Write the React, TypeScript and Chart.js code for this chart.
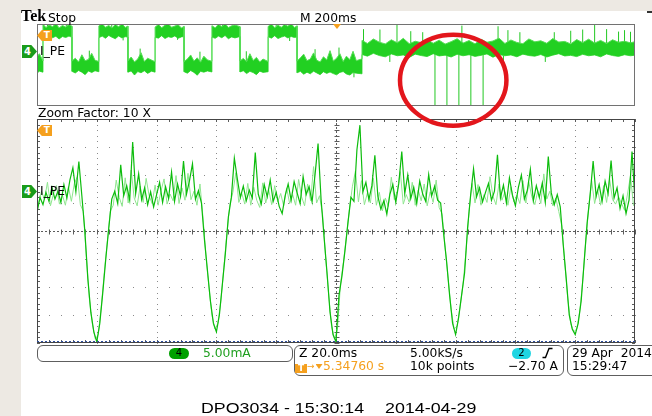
import React, { useEffect, useRef } from "react";
import { Chart, registerables } from "chart.js";

Chart.register(...registerables);

// ---------------- data ----------------
// vertical scale (both panes): 8 divisions x 5.00 mA
const Y_MIN = -27.5;
const Y_MAX = 12.5;
// zoomed pane: 10 divisions x 20.0 ms
const ZOOM_SPAN_MS = 200;
const ZOOM_SAMPLE_MS = 1;
// overview pane: 10 divisions x 200 ms
const OVERVIEW_SPAN_MS = 2000;

// zoomed trace I_PE (mA), bright samples at t = 0, 1, ... 200 ms
const zoomI = [
  -4.2, -1.5, -2.8, -0.6, -2.2, 0.3, -1.8, -0.4, -2.4, 0.8,
  -1.6, 1.6, 3.8, -0.5, 4.9, -1.2, -7.5, -16, -22, -25.5,
  -27.3, -24, -18.5, -12.5, -7, -1.8, -0.4, -2.6, 4.3, -1.2,
  0.6, -2.0, 8.4, -0.8, 2.7, -1.9, 0.2, -2.8, -0.5, -3.2,
  -1.0, 1.2, -2.4, 0.4, -1.7, 3.0, -2.2, 0.9, -1.3, 5.0,
  -0.9, 1.5, 4.5, -1.8, -0.3, -2.5, -9, -14.5, -20, -24,
  -25.5, -22.5, -17, -11.5, -5, -1.5, 5.5, 1.8, -1.5, 0.5,
  -2.1, -0.2, -1.6, 6.5, -0.9, -2.7, 0.8, -1.4, 1.6, -2.2,
  -0.6, -3.1, -4.4, -1.2, 0.9, -2.0, 1.3, -0.7, -2.6, 2.2,
  -1.0, 0.4, -2.3, 2.6, 8.1, -1.8, -8.5, -15, -22, -26,
  -27.3, -19, -15.5, -11, -6, -1.5, -2.2, 7.0, 11.4, -0.5,
  1.2, -1.9, 0.6, 6.0, -1.3, -3.6, -2.1, -4.5, -1.0, 0.8,
  -2.4, 1.0, 6.7, -0.8, 2.5, -1.7, 0.3, -2.6, 1.4, -0.9,
  -2.2, 2.6, -1.2, 0.5, -2.0, -2.5, -8, -13, -19, -24,
  -26, -23, -19, -15, -7, -1.2, 3.6, -1.4, 0.2, -2.3,
  -0.6, 1.0, -2.0, -0.4, 6.1, -1.6, 0.7, -2.5, 2.0, -1.1,
  -3.0, 0.3, 2.5, -1.8, -0.2, 3.5, -2.1, 0.6, -1.5, 1.1,
  -2.4, 5.8, -0.7, -2.8, -1.0, -3.2, -10, -16, -22.5, -25,
  -26, -24, -20, -13, -6, -1, 5.0, -1.3, 0.8, -2.2,
  1.4, -0.8, 5.1, -1.6, 0.2, -3.5, -1.2, -4.4, -2.0, 6.7,
  -2.3,
];
// faint (intensity-graded) samples at t = 0.5, 1.5, ... 199.5 ms
const zoomFaint = [
  -2.6, -0.4, -1.9, 1.2, -3.0, -0.9, 0.6, -2.7, -1.1, -2.9,
  0.4, -2.2, 1.0, 2.2, -2.8, -4, -12, -19.5, -24, -26.8,
  -26, -21, -15, -9.5, -4, -2.9, 1.6, -1.5, -3.1, 2.0,
  -2.5, 3.4, -1.6, -3.0, 0.5, -2.4, 1.9, -1.2, -2.6, 0.7,
  -2.9, -0.3, 1.8, -2.7, -0.9, -2.1, 2.4, -2.6, 0.2, -2.0,
  2.8, -1.9, -0.4, -2.9, 0.9, -5, -12, -17.5, -22.5, -25,
  -24, -20, -14, -8, -2.8, -0.6, 2.9, -2.4, -0.8, -2.7,
  1.0, -2.9, 0.3, -2.0, -3.3, 1.1, -2.5, -0.2, -2.8, 0.6,
  -2.3, -0.8, -3.0, 0.2, -2.6, -1.0, -2.9, 1.7, -1.4, -3.0,
  0.9, -2.1, 4.0, -2.5, -1.2, -4.5, -12, -18.5, -24.5, -26.8,
  -25, -17, -13, -8.5, -3.5, 0.5, 3.2, -2.3, 1.5, -2.8,
  -0.7, -2.5, 1.9, -2.9, -0.6, -3.9, -1.6, -3.1, 2.1, -1.9,
  -0.4, 3.1, -2.7, -1.0, -2.4, 1.2, -2.9, -0.2, -2.1, 0.9,
  -3.0, -0.5, -2.4, 1.6, -3.3, -4.5, -10.5, -16, -21.5, -25,
  -24.5, -21, -17, -11, -4, 1.0, -2.5, 0.8, -2.9, -1.0,
  -2.4, 2.2, -1.3, -2.8, 0.9, -2.0, -0.5, -2.9, 0.4, -2.3,
  -1.1, -2.6, 1.5, -2.5, 1.2, -1.4, -2.8, -0.3, -2.6, 2.7,
  -1.8, -0.4, -3.0, -1.6, -4.0, -6.5, -13, -19.5, -24, -25.5,
  -25, -22, -16.5, -9.5, -3.5, 1.5, -2.6, -0.1, -2.9, 0.6,
  -2.4, 1.8, -1.9, -2.7, -1.4, -2.6, -3.8, -0.9, 2.4, -3.0,
];

// overview trace: noise band envelope (time ms, upper mA, lower mA)
const ovT = [
  0, 8, 20,
  20, 30, 41, 52, 63, 74, 85, 96, 107, 117,
  117, 128, 139, 150, 161, 172, 183, 194, 207,
  207, 218, 229, 240, 251, 262, 273, 284, 295, 304,
  304, 315, 326, 337, 348, 359, 370, 383, 395,
  395, 406, 417, 428, 439, 450, 461, 472, 483, 492,
  492, 503, 514, 525, 536, 547, 558, 570, 585,
  585, 596, 607, 618, 629, 640, 651, 662, 679,
  679, 690, 701, 712, 723, 734, 745, 756, 773,
  773, 784, 795, 806, 817, 828, 839, 850, 861, 870,
  870, 881, 892, 903, 914, 925, 936, 947, 958, 969, 980, 991, 1002, 1013, 1024, 1035, 1046, 1057, 1068, 1087,
  1087, 1105, 1125, 1145, 1165, 1185, 1205, 1225, 1245, 1265, 1285, 1305, 1325, 1345, 1365, 1385,
  1405, 1425, 1445, 1465, 1485, 1505, 1525, 1545, 1565, 1585, 1605, 1625, 1645, 1665, 1685, 1705,
  1725, 1745, 1765, 1785, 1805, 1825, 1845, 1865, 1885, 1905, 1925, 1945, 1965, 1985, 2000,
];
const ovHi = [
  -3.5, -2.0, -5.5,
  12.4, 10.8, 12.0, 11.2, 12.7, 10.6, 11.8, 11.0, 12.2, 11.4,
  -5.6, -4.2, -6.0, -2.5, -5.4, -4.8, -1.8, -5.2, -5.8,
  11.6, 12.6, 10.9, 11.8, 10.5, 12.3, 11.1, 12.7, 10.8, 11.5,
  -5.4, -3.6, -6.0, -4.6, -1.5, -5.8, -4.2, -5.1, -5.9,
  11.0, 12.2, 10.7, 11.9, 12.6, 10.9, 11.5, 12.1, 10.6, 11.3,
  -5.8, -4.6, -2.6, -5.6, -4.0, -6.1, -3.2, -5.0, -5.7,
  11.7, 10.6, 12.4, 11.1, 12.7, 10.8, 11.6, 12.0, 11.2,
  -5.5, -4.3, -5.9, -2.0, -5.3, -3.8, -6.0, -4.6, -5.8,
  11.3, 12.5, 10.7, 11.9, 10.9, 12.2, 11.4, 12.7, 10.8, 11.6,
  -5.6, -4.0, -2.2, -5.4, -4.6, -1.6, -5.2, -6.0, -3.5, -5.0, -0.5, -5.6, -4.2, -2.0, -5.8, -3.2, -4.9, -0.8, -5.4, -4.5,
  4.5, 3.0, 5.2, 3.6, 2.8, 4.8, 3.3, 5.5, 2.9, 4.1, 3.4, 5.0, 3.1, 4.6, 2.7, 3.9,
  5.3, 3.2, 4.4, 2.8, 5.1, 3.6, 4.2, 5.6, 3.0, 4.7, 3.5, 2.9, 5.2, 3.8, 4.3, 3.1,
  5.4, 3.7, 4.0, 2.8, 4.9, 3.4, 5.1, 3.2, 4.5, 3.0, 4.8, 3.6, 4.1, 3.3, 3.9,
];
const ovLo = [
  -11.5, -10.5, -11,
  6.2, 5.4, 6.8, 5.8, 6.5, 5.2, 6.4, 5.9, 6.6, 6.0,
  -10.6, -11.4, -10.2, -11.0, -12.2, -10.4, -11.2, -10.3, -10.8,
  5.8, 6.6, 5.5, 6.9, 6.0, 5.3, 6.7, 5.7, 6.3, 6.1,
  -11.0, -10.4, -12.4, -10.7, -11.3, -10.3, -11.6, -10.5, -11.0,
  6.0, 5.6, 6.8, 5.4, 6.3, 5.9, 6.7, 5.5, 6.2, 6.4,
  -10.8, -11.5, -10.2, -11.1, -12.5, -10.6, -11.0, -10.4, -10.9,
  6.1, 5.5, 6.6, 5.8, 6.9, 5.3, 6.2, 5.7, 6.4,
  -10.9, -10.3, -11.7, -10.6, -11.2, -12.2, -10.5, -11.1, -10.8,
  6.3, 5.6, 6.8, 5.4, 6.1, 6.6, 5.7, 6.4, 5.9, 6.2,
  -11.3, -10.6, -12.0, -11.0, -11.8, -10.5, -11.4, -12.2, -10.8, -11.6, -10.9, -11.7, -12.3, -11.1, -10.7, -11.9, -12.4, -11.2, -11.5, -11.8,
  -2.4, -3.2, -1.8, -2.9, -3.5, -2.1, -3.0, -2.6, -3.8, -2.2, -2.9, -3.4, -2.0, -3.1, -2.7, -3.6,
  -2.3, -3.0, -2.5, -3.3, -2.8, -2.1, -3.7, -2.4, -3.0, -2.6, -3.5, -2.2, -2.9, -3.2, -2.4, -3.6,
  -2.7, -2.0, -3.1, -2.8, -3.4, -2.3, -3.0, -2.6, -3.5, -2.1, -2.9, -3.3, -2.5, -3.0, -2.7,
];
// overview isolated spikes (time ms, top mA, bottom mA)
const ovSpikeT = [35, 98, 175, 250, 288, 345, 430, 470, 545, 620, 700, 800, 845, 930, 1010, 1060, 1092, 1147, 1180, 1204, 1250, 1290, 1331, 1371, 1411, 1421, 1451, 1492, 1542, 1560, 1575, 1615, 1700, 1730, 1785, 1825, 1865, 1905, 1945, 1965, 1985];
const ovSpikeTop = [12.7, 12.5, -0.5, 12.7, 8, 0.5, 12.7, 8, -1.0, 12.7, -0.8, 12.7, 8, 0.2, 1.0, -10, 10, 9.8, -2, 12.2, 9, 8.5, -2, -2, -2, 11.7, -2, -2, 11.4, -2, 9.5, 8.5, -2, 8.5, 9.2, 9.8, 12, 10, 8.8, 9.5, 8.7];
const ovSpikeBot = [8, 7, -6, 8, 4.5, -6, 8, 4.8, -6, 8, -6, 8, 4.2, -6, -6, -13.5, 3, 3, -6, 3, 3, 3, -27.5, -27.5, -27.5, 3, -27.5, -27.5, 3, -6, 3, 3, -6, 3, 3, 3, 3, 3, 3, 3, 3];
// red highlight ellipse on overview: centre ms, centre mA, radius ms, radius mA
const HILITE = [1392, -14.9, 178, 22.2];

// ---------------- styles ----------------
const BEIGE = "#ede9e3";
const ORANGE = "#f5a01e";
const SANS = '"DejaVu Sans", sans-serif';
const ARIAL = '"Liberation Sans", Arial, sans-serif';
const SERIF = '"Liberation Serif", serif';

const zoomFrame = {
  id: "zoomFrame",
  beforeDatasetsDraw(chart: any) {
    const { ctx, chartArea: a, scales } = chart;
    const x = scales.x, y = scales.y;
    const xDiv = (x.max - x.min) / 10;
    const yDiv = (y.max - y.min) / 8;
    const X = (v: number) => Math.round(x.getPixelForValue(v));
    const Y = (v: number) => Math.round(y.getPixelForValue(v));
    ctx.save();
    ctx.fillStyle = "#8a8a8a";
    for (let i = 1; i < 10; i++) {
      if (i === 5) continue;
      const px = X(x.min + i * xDiv);
      for (let j = 0; j <= 40; j++) ctx.fillRect(px, Y(y.min + (j * yDiv) / 5), 1, 1);
    }
    for (let j = 1; j < 8; j++) {
      if (j === 4) continue;
      const py = Y(y.min + j * yDiv);
      for (let i = 0; i <= 50; i++) ctx.fillRect(X(x.min + (i * xDiv) / 5), py, 1, 1);
    }
    // centre cross-hair with minor ticks
    ctx.strokeStyle = "#5c5c5c";
    ctx.lineWidth = 1;
    const cy = Y(y.min + 4 * yDiv) + 0.5;
    const cx = X(x.min + 5 * xDiv) + 0.5;
    ctx.setLineDash([2, 2]);
    ctx.beginPath();
    ctx.moveTo(a.left, cy); ctx.lineTo(a.right, cy);
    ctx.moveTo(cx, a.top); ctx.lineTo(cx, a.bottom);
    ctx.stroke();
    ctx.setLineDash([]);
    ctx.beginPath();
    for (let i = 0; i <= 50; i++) {
      const px = X(x.min + (i * xDiv) / 5) + 0.5;
      ctx.moveTo(px, cy - 2); ctx.lineTo(px, cy + 3);
      ctx.moveTo(px, a.top); ctx.lineTo(px, a.top + 3);
      ctx.moveTo(px, a.bottom); ctx.lineTo(px, a.bottom - 3);
    }
    for (let j = 0; j <= 40; j++) {
      const py = Y(y.min + (j * yDiv) / 5) + 0.5;
      ctx.moveTo(cx - 2, py); ctx.lineTo(cx + 3, py);
      ctx.moveTo(a.left, py); ctx.lineTo(a.left + 3, py);
      ctx.moveTo(a.right, py); ctx.lineTo(a.right - 3, py);
    }
    ctx.stroke();
    ctx.restore();
  },
  afterDraw(chart: any) {
    const { ctx, chartArea: a } = chart;
    ctx.save();
    ctx.strokeStyle = "#454545";
    ctx.lineWidth = 1;
    ctx.strokeRect(Math.round(a.left) + 0.5, Math.round(a.top) + 0.5, Math.round(a.right - a.left) - 1, Math.round(a.bottom - a.top) - 1);
    ctx.strokeStyle = "#3050a0";
    ctx.setLineDash([2, 2]);
    ctx.beginPath();
    ctx.moveTo(a.left, Math.round(a.bottom) - 1.5);
    ctx.lineTo(a.right, Math.round(a.bottom) - 1.5);
    ctx.stroke();
    ctx.restore();
  },
};

const overviewFrame = {
  id: "overviewFrame",
  afterDraw(chart: any) {
    const { ctx, chartArea: a, scales } = chart;
    const x = scales.x, y = scales.y;
    ctx.save();
    ctx.strokeStyle = "#727272";
    ctx.lineWidth = 1;
    ctx.strokeRect(Math.round(a.left) + 0.5, Math.round(a.top) + 0.5, Math.round(a.right - a.left) - 1, Math.round(a.bottom - a.top) - 1);
    const cx = x.getPixelForValue(HILITE[0]);
    const cy = y.getPixelForValue(HILITE[1]);
    const rx = Math.abs(x.getPixelForValue(HILITE[0] + HILITE[2]) - cx);
    const ry = Math.abs(y.getPixelForValue(HILITE[1] + HILITE[3]) - cy);
    ctx.beginPath();
    ctx.ellipse(cx, cy, rx, ry, 0, 0, Math.PI * 2);
    ctx.strokeStyle = "#e3161c";
    ctx.lineWidth = 4.5;
    ctx.stroke();
    ctx.restore();
  },
};

function baseOptions(span: number, padding: any) {
  return {
    responsive: false,
    animation: false as const,
    events: [] as any[],
    layout: { padding },
    plugins: { legend: { display: false }, tooltip: { enabled: false }, title: { display: false } },
    elements: { point: { radius: 0 }, line: { tension: 0 } },
    scales: {
      x: { type: "linear" as const, display: false, min: 0, max: span },
      y: { type: "linear" as const, display: false, min: Y_MIN, max: Y_MAX },
    },
  };
}

function Txt(props: any) {
  const { x, base, size = 12.3, color = "#000", font = SANS, weight = 400, sx = 1, children } = props;
  return (
    <div
      style={{
        position: "absolute",
        left: x,
        top: base - 0.846 * size,
        fontFamily: font,
        fontSize: size,
        lineHeight: `${size}px`,
        fontWeight: weight,
        color,
        whiteSpace: "pre",
        transform: sx !== 1 ? `scaleX(${sx})` : undefined,
        transformOrigin: "left center",
      }}
    >
      {children}
    </div>
  );
}

function ChMarker({ top }: { top: number }) {
  return (
    <div
      style={{
        position: "absolute", left: 22, top, width: 15, height: 13,
        background: "#1a9c1a",
        clipPath: "polygon(0 0, 62% 0, 100% 50%, 62% 100%, 0 100%)",
        color: "#fff", fontFamily: SANS, fontWeight: 700, fontSize: 10,
        lineHeight: "13px", paddingLeft: 2, boxSizing: "border-box",
      }}
    >
      4
    </div>
  );
}

function TMarker({ top }: { top: number }) {
  return (
    <div
      style={{
        position: "absolute", left: 37, top, width: 15, height: 11,
        background: ORANGE,
        clipPath: "polygon(0 50%, 32% 0, 100% 0, 100% 100%, 32% 100%)",
        color: "#fff", fontFamily: SANS, fontWeight: 700, fontSize: 9,
        lineHeight: "11px", textAlign: "right", paddingRight: 2, boxSizing: "border-box",
      }}
    >
      T
    </div>
  );
}

const boxStyle = (left: number, top: number, width: number, height: number): React.CSSProperties => ({
  position: "absolute", left, top, width, height,
  border: "1px solid #5e5e5e", borderRadius: 6, boxSizing: "border-box",
});

export default function App() {
  const ovRef = useRef<HTMLCanvasElement>(null);
  const zmRef = useRef<HTMLCanvasElement>(null);

  useEffect(() => {
    const band = ovT.map((t, i) => ({ hi: { x: t, y: ovHi[i] }, lo: { x: t, y: ovLo[i] } }));
    const spikes: any[] = [];
    ovSpikeT.forEach((t, i) => {
      spikes.push({ x: t, y: ovSpikeBot[i] }, { x: t, y: ovSpikeTop[i] }, { x: t, y: null });
    });
    const ov = new Chart(ovRef.current as HTMLCanvasElement, {
      type: "line",
      data: {
        datasets: [
          { data: band.map((b) => b.hi), borderColor: "#55dd55", borderWidth: 1, backgroundColor: "#22d022", fill: "+1" },
          { data: band.map((b) => b.lo), borderColor: "#55dd55", borderWidth: 1, fill: false },
          { data: spikes, borderColor: "#22c822", borderWidth: 1, fill: false, spanGaps: false },
        ],
      },
      options: baseOptions(OVERVIEW_SPAN_MS, { left: 37, right: 17, top: 24, bottom: 310 }) as any,
      plugins: [overviewFrame],
    });

    const bright = zoomI.map((v, i) => ({ x: i * ZOOM_SAMPLE_MS, y: v }));
    const faint = zoomFaint.map((v, i) => ({ x: (i + 0.5) * ZOOM_SAMPLE_MS, y: v }));
    const zm = new Chart(zmRef.current as HTMLCanvasElement, {
      type: "line",
      data: {
        datasets: [
          { data: bright, borderColor: "#0cbc0c", borderWidth: 1.2, fill: false },
          { data: faint, borderColor: "#8fe68f", borderWidth: 1, fill: false },
        ],
      },
      options: baseOptions(ZOOM_SPAN_MS, { left: 37, right: 17, top: 119, bottom: 73 }) as any,
      plugins: [zoomFrame],
    });
    return () => {
      ov.destroy();
      zm.destroy();
    };
  }, []);

  return (
    <div style={{ position: "absolute", left: 0, top: 0, width: 652, height: 416, background: BEIGE, overflow: "hidden" }}>
      <div style={{ position: "absolute", left: 21, top: 11, width: 631, height: 405, background: "#fff" }} />
      <div style={{ position: "absolute", left: 647, top: 11, width: 5, height: 1.5, background: "#333" }} />
      <canvas ref={zmRef} width={652} height={416} style={{ position: "absolute", left: 0, top: 0 }} />
      <canvas ref={ovRef} width={652} height={416} style={{ position: "absolute", left: 0, top: 0 }} />

      {/* header */}
      <Txt x={21} base={22} size={16} font={SERIF} weight={700}>Tek</Txt>
      <Txt x={48} base={22}>Stop</Txt>
      <Txt x={300} base={22}>M 200ms</Txt>
      <div style={{ position: "absolute", left: 333, top: 24, width: 8, height: 5, background: ORANGE, clipPath: "polygon(0 0, 100% 0, 50% 100%)" }} />

      {/* overview labels */}
      <TMarker top={30} />
      <ChMarker top={45} />
      <Txt x={40} base={55}>I_PE</Txt>

      {/* zoom labels */}
      <Txt x={38} base={117}>Zoom Factor: 10 X</Txt>
      <TMarker top={125} />
      <ChMarker top={185} />
      <Txt x={40} base={195.5}>I_PE</Txt>

      {/* readout boxes */}
      <div style={boxStyle(37, 345, 256, 17)} />
      <div style={boxStyle(294, 345, 270, 31)} />
      <div style={boxStyle(567, 345, 100, 31)} />

      <div style={{ position: "absolute", left: 169, top: 348, width: 20, height: 10.5, borderRadius: 5.5, background: "#00a000", color: "#000", fontFamily: SANS, fontSize: 10, lineHeight: "10.5px", textAlign: "center" }}>4</div>
      <Txt x={203} base={357} color="#1e9e1e">5.00mA</Txt>

      <Txt x={299} base={357}>Z 20.0ms</Txt>
      <Txt x={410} base={357}>5.00kS/s</Txt>
      <div style={{ position: "absolute", left: 512, top: 348, width: 19, height: 10.5, borderRadius: 5.5, background: "#1fd5e2", color: "#000", fontFamily: SANS, fontSize: 10, lineHeight: "10.5px", textAlign: "center" }}>2</div>
      <svg style={{ position: "absolute", left: 541, top: 347 }} width={13} height={12}>
        <path d="M1.5 10.5 L4.5 10.5 L8 1.5 L11.5 1.5" stroke="#000" strokeWidth={1.4} fill="none" />
      </svg>

      <div style={{ position: "absolute", left: 295, top: 363.5, width: 12, height: 9.5, background: ORANGE, color: "#fff", fontFamily: SANS, fontWeight: 700, fontSize: 9, lineHeight: "9.5px", textAlign: "center" }}>T</div>
      <Txt x={307} base={370} size={9} color={ORANGE}>→</Txt>
      <div style={{ position: "absolute", left: 315.5, top: 364, width: 7, height: 5, background: ORANGE, clipPath: "polygon(0 0, 100% 0, 50% 100%)" }} />
      <Txt x={323} base={370.5} color={ORANGE}>5.34760 s</Txt>
      <Txt x={410} base={370.5}>10k points</Txt>
      <Txt x={508} base={370.5}>−2.70 A</Txt>

      <Txt x={572} base={357}>29 Apr  2014</Txt>
      <Txt x={572} base={370.5}>15:29:47</Txt>

      {/* footer */}
      <Txt x={201} base={413} size={15} font={ARIAL} sx={1.185}>DPO3034 - 15:30:14</Txt>
      <Txt x={385} base={413} size={15} font={ARIAL} sx={1.19}>2014-04-29</Txt>
    </div>
  );
}
